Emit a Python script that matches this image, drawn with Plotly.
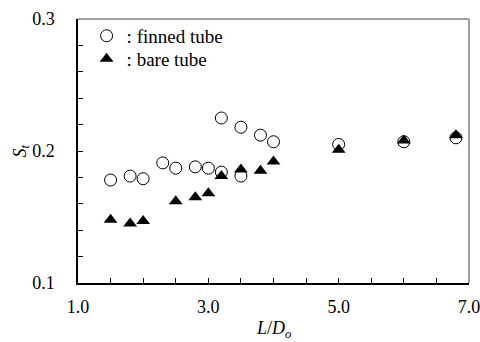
import plotly.graph_objects as go

finned_x = [1.5, 1.8, 2.0, 2.3, 2.5, 2.8, 3.0, 3.2, 3.2, 3.5, 3.5, 3.8, 4.0, 5.0, 6.0, 6.8]
finned_y = [0.178, 0.181, 0.179, 0.191, 0.187, 0.188, 0.187, 0.184, 0.225, 0.218, 0.181, 0.212, 0.207, 0.205, 0.207, 0.210]
bare_x = [1.5, 1.8, 2.0, 2.5, 2.8, 3.0, 3.2, 3.5, 3.8, 4.0, 5.0, 6.0, 6.8]
bare_y = [0.148, 0.145, 0.147, 0.162, 0.165, 0.168, 0.181, 0.186, 0.185, 0.192, 0.201, 0.208, 0.212]
x_title = "<i>L</i>/<i>D</i><sub><i>o</i></sub>"
y_title = "<i>S</i><sub><i>t</i></sub>"

FONT = "Liberation Serif, Times New Roman, serif"

fig = go.Figure()
fig.add_trace(go.Scatter(x=finned_x, y=finned_y, mode="markers", name=": finned tube", legend="legend",
                         marker=dict(symbol="circle-open", size=12, color="black", line=dict(width=1, color="black"))))
fig.add_trace(go.Scatter(x=bare_x, y=bare_y, mode="markers", name=": bare tube", legend="legend2",
                         marker=dict(symbol="triangle-up", size=12, color="black")))

leg = dict(xanchor="left", yanchor="middle", bgcolor="rgba(0,0,0,0)",
           font=dict(family=FONT, size=19), itemwidth=30)

fig.update_layout(
    width=480, height=342,
    margin=dict(l=78, r=11, t=19, b=59, autoexpand=False),
    paper_bgcolor="white", plot_bgcolor="white",
    font=dict(family=FONT, size=18, color="black"),
    showlegend=True,
    legend=dict(x=0.022, y=0.936, **leg),
    legend2=dict(x=0.022, y=0.849, **leg),
    xaxis=dict(range=[1, 7], tickmode="linear", tick0=1, dtick=2, tickformat=".1f",
               ticks="inside", ticklen=5, tickwidth=1, tickcolor="black",
               minor=dict(dtick=0.5, ticks="inside", ticklen=5, tickwidth=1, tickcolor="black"),
               showline=True, linecolor="black", linewidth=1.5, showgrid=False, zeroline=False,
               ticklabelstandoff=7, ticklabeloverflow="allow",
               tickfont=dict(family=FONT, size=18), automargin=False),
    yaxis=dict(range=[0.1, 0.3], tickmode="linear", tick0=0.1, dtick=0.1, tickformat=".1f",
               ticks="inside", ticklen=5, tickwidth=1, tickcolor="black",
               minor=dict(dtick=0.02, ticks="inside", ticklen=5, tickwidth=1, tickcolor="black"),
               showline=True, linecolor="black", linewidth=1.5, showgrid=False, zeroline=False,
               ticklabelstandoff=18, ticklabeloverflow="allow",
               tickfont=dict(family=FONT, size=18), automargin=False),
    annotations=[
        dict(text=x_title, xref="paper", yref="paper", x=0.5, y=-0.125, xanchor="center", yanchor="top",
             showarrow=False, font=dict(family=FONT, size=18)),
        dict(text=y_title, xref="paper", yref="paper", x=-0.147, y=0.5, xanchor="center", yanchor="middle",
             textangle=-90, showarrow=False, font=dict(family=FONT, size=18)),
    ],
    shapes=[
        dict(type="line", xref="paper", yref="paper", x0=0, x1=1, y0=1, y1=1,
             line=dict(color="#808080", width=1.5)),
        dict(type="line", xref="paper", yref="paper", x0=1, x1=1, y0=0, y1=1,
             line=dict(color="#808080", width=1.5)),
    ],
)

fig.write_html("out.html")
